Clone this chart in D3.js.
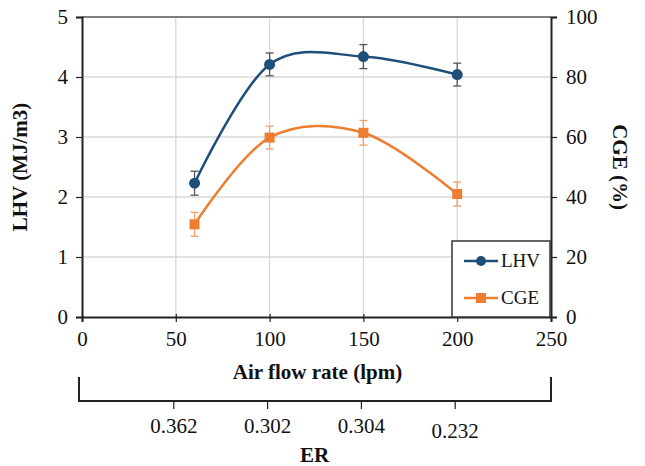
<!DOCTYPE html>
<html>
<head>
<meta charset="utf-8">
<script src="https://cdn.jsdelivr.net/npm/d3@7"></script>
<style>
  body { margin: 0; background: #fff; }
  svg text { font-family: "Liberation Serif", "Times New Roman", serif !important; fill: #111; }
</style>
</head>
<body>
<div id="chart"></div>
<script>
// data
var airFlow = [60, 100, 150, 200];
var lhv = [2.23, 4.21, 4.34, 4.04];
var lhvErr = [0.2, 0.19, 0.2, 0.19];
var cge = [30.9, 59.8, 61.4, 41.0];
var cgeErr = [4.0, 3.8, 4.1, 4.0];
var erPos = [50, 100, 150, 200];
var erLabels = ["0.362", "0.302", "0.304", "0.232"];
var xTicks = [0, 50, 100, 150, 200, 250];
var leftTicks = [0, 1, 2, 3, 4, 5];
var rightTicks = [0, 20, 40, 60, 80, 100];

var totalWidth = 645,
    totalHeight = 466;
var margin = {top: 17, right: 94, bottom: 149, left: 82};
var width = totalWidth - margin.left - margin.right,
    height = totalHeight - margin.top - margin.bottom;

var blue = "#1f4e79",
    orange = "#ed7d31",
    grid = "#d9d9d9",
    axisCol = "#222";

var svg = d3.select("#chart").append("svg")
    .attr("width", totalWidth)
    .attr("height", totalHeight);

var g = svg.append("g")
    .attr("transform", "translate(" + margin.left + "," + margin.top + ")");

var xScale = d3.scaleLinear().domain([0, 250]).range([0, width]);
var yLeft = d3.scaleLinear().domain([0, 5]).range([height, 0]);
var yRight = d3.scaleLinear().domain([0, 100]).range([height, 0]);

// gridlines
g.append("g").selectAll("line").data(xTicks.slice(1, -1)).enter().append("line")
    .attr("x1", function(d) { return xScale(d); })
    .attr("x2", function(d) { return xScale(d); })
    .attr("y1", 0).attr("y2", height)
    .attr("stroke", grid).attr("stroke-width", 1.3);
g.append("g").selectAll("line").data(leftTicks.slice(1, -1)).enter().append("line")
    .attr("x1", 0).attr("x2", width)
    .attr("y1", function(d) { return yLeft(d); })
    .attr("y2", function(d) { return yLeft(d); })
    .attr("stroke", grid).attr("stroke-width", 1.3);
// top border
g.append("line")
    .attr("x1", 0).attr("x2", width)
    .attr("y1", yLeft(5)).attr("y2", yLeft(5))
    .attr("stroke", "#555").attr("stroke-width", 1.5);

// axes
var fmt = d3.format("d");
var xAxis = d3.axisBottom(xScale).tickValues(xTicks).tickFormat(fmt).tickSize(5).tickPadding(9);
var yAxisL = d3.axisLeft(yLeft).tickValues(leftTicks).tickFormat(fmt).tickSize(6).tickPadding(8);
var yAxisR = d3.axisRight(yRight).tickValues(rightTicks).tickFormat(fmt).tickSize(6).tickPadding(9);

function styleAxis(sel) {
    sel.attr("font-family", null).attr("font-size", null);
    sel.select(".domain").attr("stroke", axisCol).attr("stroke-width", 2);
    sel.selectAll(".tick line").attr("stroke", axisCol).attr("stroke-width", 1.2);
    sel.selectAll("text").style("font-size", "21px").attr("fill", "#111");
}

g.append("g").attr("transform", "translate(0," + height + ")").call(xAxis).call(styleAxis)
    .selectAll(".tick line").attr("y1", -3);
g.append("g").call(yAxisL).call(styleAxis);
g.append("g").attr("transform", "translate(" + width + ",0)").call(yAxisR).call(styleAxis);

// axis titles
svg.append("text")
    .attr("x", margin.left + width / 2 + 1).attr("y", 379)
    .attr("text-anchor", "middle")
    .style("font-size", "21px").style("font-weight", "bold")
    .text("Air flow rate (lpm)");
svg.append("text")
    .attr("transform", "translate(27," + (margin.top + height / 2) + ") rotate(-90)")
    .attr("text-anchor", "middle")
    .style("font-size", "21px").style("font-weight", "bold")
    .text("LHV (MJ/m3)");
svg.append("text")
    .attr("transform", "translate(613," + (margin.top + height / 2) + ") rotate(90)")
    .attr("text-anchor", "middle")
    .style("font-size", "21px").style("font-weight", "bold")
    .text("CGE (%)");

// ER bracket axis
var er = svg.append("g").attr("transform", "translate(" + margin.left + ",0)");
er.append("path")
    .attr("d", "M" + (xScale(0) - 3) + ",377V401H" + xScale(250) + "V377")
    .attr("fill", "none").attr("stroke", axisCol).attr("stroke-width", 2);
er.selectAll("line.ert").data(erPos).enter().append("line")
    .attr("x1", function(d) { return xScale(d) - 2; })
    .attr("x2", function(d) { return xScale(d) - 2; })
    .attr("y1", 401).attr("y2", 409)
    .attr("stroke", axisCol).attr("stroke-width", 1.2);
er.selectAll("text.erl").data(erPos).enter().append("text")
    .attr("x", function(d) { return xScale(d) - 2; })
    .attr("y", function(d, i) { return i === 3 ? 438 : 433; })
    .attr("text-anchor", "middle")
    .style("font-size", "21px")
    .text(function(d, i) { return erLabels[i]; });
svg.append("text")
    .attr("x", margin.left + width / 2 - 2).attr("y", 462)
    .attr("text-anchor", "middle")
    .style("font-size", "21px").style("font-weight", "bold")
    .text("ER");

// series
var curve = d3.curveCardinal.tension(0);
var lineL = d3.line().curve(curve)
    .x(function(d, i) { return xScale(airFlow[i]); })
    .y(function(d) { return yLeft(d); });
var lineR = d3.line().curve(curve)
    .x(function(d, i) { return xScale(airFlow[i]); })
    .y(function(d) { return yRight(d); });

function errorBars(vals, errs, scale, color) {
    var eg = g.append("g").attr("stroke", color).attr("stroke-width", 1.3);
    vals.forEach(function(v, i) {
        var x = xScale(airFlow[i]);
        eg.append("line").attr("x1", x).attr("x2", x)
            .attr("y1", scale(v + errs[i])).attr("y2", scale(v - errs[i]));
        [v + errs[i], v - errs[i]].forEach(function(e) {
            eg.append("line").attr("x1", x - 4).attr("x2", x + 4)
                .attr("y1", scale(e)).attr("y2", scale(e));
        });
    });
}

g.append("path").datum(cge).attr("d", lineR)
    .attr("fill", "none").attr("stroke", orange).attr("stroke-width", 2.5);
errorBars(cge, cgeErr, yRight, "#f2a06a");
g.selectAll("rect.cge").data(cge).enter().append("rect")
    .attr("x", function(d, i) { return xScale(airFlow[i]) - 5; })
    .attr("y", function(d) { return yRight(d) - 5; })
    .attr("width", 10).attr("height", 10)
    .attr("fill", orange);

g.append("path").datum(lhv).attr("d", lineL)
    .attr("fill", "none").attr("stroke", blue).attr("stroke-width", 2.5);
errorBars(lhv, lhvErr, yLeft, "#555");
g.selectAll("circle.lhv").data(lhv).enter().append("circle")
    .attr("cx", function(d, i) { return xScale(airFlow[i]); })
    .attr("cy", function(d) { return yLeft(d); })
    .attr("r", 5.5)
    .attr("fill", blue);

// legend
var lg = g.append("g").attr("transform", "translate(" + (452 - margin.left) + "," + (241 - margin.top) + ")");
lg.append("rect").attr("width", 98).attr("height", 76)
    .attr("fill", "#fff").attr("stroke", "#333").attr("stroke-width", 1.5);
var legendItems = [
    {name: "LHV", color: blue, y: 20, shape: "circle"},
    {name: "CGE", color: orange, y: 57, shape: "square"}
];
legendItems.forEach(function(d) {
    lg.append("line").attr("x1", 12).attr("x2", 46).attr("y1", d.y).attr("y2", d.y)
        .attr("stroke", d.color).attr("stroke-width", 2.5);
    if (d.shape === "circle") {
        lg.append("circle").attr("cx", 29).attr("cy", d.y).attr("r", 5).attr("fill", d.color);
    } else {
        lg.append("rect").attr("x", 24).attr("y", d.y - 5).attr("width", 10).attr("height", 10).attr("fill", d.color);
    }
    lg.append("text").attr("x", 49).attr("y", d.y + 6)
        .style("font-size", "19px").text(d.name);
});
</script>
</body>
</html>
